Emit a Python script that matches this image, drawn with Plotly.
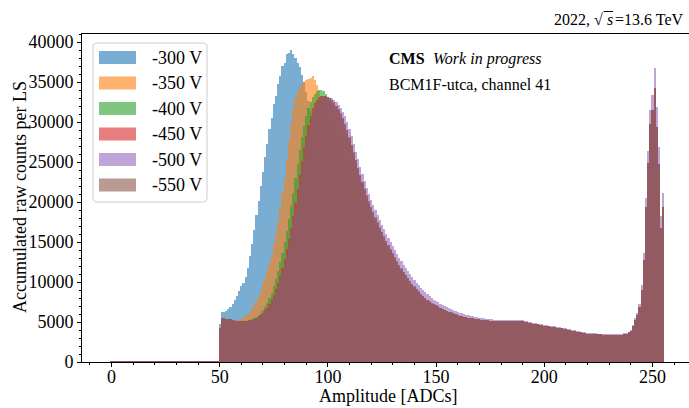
import plotly.graph_objects as go

# ---------------------------------------------------------------------------
# Accumulated raw counts per LS, BCM1F-utca channel 41, one histogram per bias
# voltage. ADC bins 0..255 (bin width 1).
# ---------------------------------------------------------------------------
bins = list(range(256))

voltages = ["-300 V", "-350 V", "-400 V", "-450 V", "-500 V", "-550 V"]
colors = ["#1f77b4", "#ff7f0e", "#2ca02c", "#d62728", "#9467bd", "#8c564b"]

# bins 0-49 (below threshold, practically empty for every voltage)
low_counts = [
    160, 150, 140, 150, 160, 150, 140, 150, 150, 160,
    150, 140, 150, 160, 150, 150, 140, 150, 160, 150,
    150, 140, 150, 160, 150, 150, 140, 150, 150, 160,
    150, 140, 150, 160, 150, 150, 140, 150, 160, 150,
    150, 140, 150, 150, 160, 150, 140, 150, 160, 170,
]

# bins 50-149, per voltage
rise_300 = [
    4750, 6250, 6250, 6400, 6650, 6900, 7200, 7700, 8200, 8900,
    9500, 9900, 10600, 11700, 13250, 14800, 16500, 18400, 20100, 22000,
    23700, 25600, 27250, 29100, 30500, 32250, 33250, 34750, 35800, 36950,
    37400, 38450, 38600, 39000, 38500, 38000, 37400, 36900, 35900, 34950,
    33800, 32600, 31400, 30300, 29300, 28400, 27500, 26700, 25900, 25100,
    24400, 23700, 23000, 22300, 21600, 21000, 20400, 19800, 19200, 18600,
    18000, 17400, 16900, 16400, 15900, 15400, 14900, 14400, 14000, 13600,
    13200, 12800, 12400, 12000, 11700, 11400, 11100, 10800, 10500, 10200,
    9900, 9700, 9500, 9300, 9100, 8900, 8700, 8500, 8350, 8200,
    8050, 7900, 7750, 7600, 7500, 7400, 7300, 7200, 7100, 7000,
]
rise_350 = [
    4300, 5500, 5450, 5400, 5380, 5330, 5280, 5250, 5250, 5280,
    5350, 5500, 5700, 5950, 6250, 6650, 7100, 7600, 8200, 8900,
    9700, 10500, 11400, 12400, 13500, 14700, 16000, 17500, 19300, 21100,
    23000, 25300, 27600, 29800, 31600, 33000, 33900, 34400, 34800, 35000,
    35200, 35400, 35500, 35750, 35200, 34600, 33900, 33200, 32500, 31900,
    31300, 30700, 30100, 29500, 28900, 28300, 27700, 27000, 26300, 25600,
    24900, 24200, 23500, 22800, 22100, 21400, 20700, 20000, 19300, 18700,
    18100, 17500, 16900, 16300, 15800, 15300, 14800, 14300, 13800, 13300,
    12900, 12500, 12100, 11700, 11300, 10900, 10500, 10150, 9800, 9500,
    9200, 8900, 8600, 8300, 8050, 7800, 7600, 7400, 7250, 7100,
]
rise_400 = [
    4280, 5480, 5440, 5400, 5360, 5320, 5260, 5200, 5150, 5130,
    5120, 5130, 5150, 5200, 5270, 5370, 5500, 5680, 5900, 6150,
    6450, 6850, 7350, 7950, 8650, 9450, 10350, 11350, 12450, 13650,
    14950, 16350, 17850, 19450, 21150, 22950, 24750, 26500, 28100, 29500,
    30700, 31700, 32500, 33100, 33550, 33850, 34000, 34000, 33850, 33550,
    33150, 32750, 32400, 32000, 31600, 31100, 30600, 30000, 29300, 28500,
    27600, 26700, 25800, 24900, 24000, 23100, 22200, 21350, 20550, 19800,
    19100, 18450, 17800, 17150, 16550, 15950, 15400, 14850, 14350, 13850,
    13350, 12850, 12350, 11900, 11450, 11050, 10650, 10250, 9900, 9550,
    9250, 8950, 8650, 8350, 8100, 7850, 7650, 7450, 7300, 7150,
]
rise_450 = [
    4300, 5490, 5450, 5410, 5370, 5320, 5250, 5180, 5130, 5110,
    5090, 5090, 5110, 5150, 5210, 5290, 5400, 5540, 5710, 5910,
    6150, 6450, 6800, 7250, 7780, 8400, 9100, 9900, 10800, 11800,
    12900, 14100, 15400, 16800, 18300, 19900, 21600, 23350, 25100, 26750,
    28300, 29650, 30800, 31700, 32350, 32800, 33100, 33250, 33300, 33300,
    33150, 32950, 32700, 32400, 32000, 31550, 31050, 30450, 29750, 28950,
    28050, 27100, 26150, 25200, 24250, 23350, 22450, 21600, 20800, 20050,
    19350, 18700, 18050, 17400, 16800, 16200, 15650, 15100, 14600, 14050,
    13550, 13050, 12550, 12100, 11650, 11250, 10850, 10450, 10100, 9750,
    9400, 9100, 8800, 8500, 8250, 8000, 7750, 7550, 7350, 7200,
]
rise_500 = [
    4280, 5480, 5440, 5400, 5360, 5310, 5230, 5150, 5100, 5080,
    5060, 5060, 5070, 5100, 5150, 5220, 5310, 5420, 5570, 5750,
    5960, 6230, 6550, 6950, 7420, 7980, 8620, 9350, 10200, 11150,
    12200, 13350, 14600, 15950, 17400, 18950, 20600, 22300, 24050, 25750,
    27350, 28800, 30050, 31050, 31800, 32350, 32700, 32950, 33100, 33150,
    33100, 33050, 32950, 32800, 32550, 32100, 31750, 31300, 30700, 29950,
    29100, 28200, 27250, 26300, 25350, 24400, 23500, 22650, 21800, 21000,
    20300, 19650, 19000, 18350, 17750, 17150, 16600, 16050, 15550, 15000,
    14500, 14000, 13500, 13050, 12600, 12150, 11750, 11350, 10950, 10600,
    10250, 9900, 9600, 9300, 9000, 8700, 8450, 8200, 7950, 7750,
]
rise_550 = [
    4290, 5500, 5460, 5420, 5380, 5330, 5250, 5170, 5120, 5100,
    5080, 5080, 5090, 5120, 5170, 5240, 5330, 5450, 5600, 5780,
    6000, 6270, 6600, 7000, 7480, 8050, 8700, 9450, 10300, 11250,
    12300, 13450, 14700, 16050, 17500, 19050, 20700, 22400, 24150, 25850,
    27450, 28900, 30150, 31150, 31900, 32450, 32800, 33050, 33200, 33250,
    33150, 33000, 32750, 32450, 32050, 31600, 31100, 30500, 29800, 29000,
    28100, 27150, 26200, 25250, 24300, 23400, 22500, 21650, 20850, 20100,
    19400, 18750, 18100, 17450, 16850, 16250, 15700, 15150, 14650, 14100,
    13600, 13100, 12600, 12150, 11700, 11300, 10900, 10500, 10150, 9800,
    9450, 9150, 8850, 8550, 8300, 8050, 7800, 7600, 7400, 7250,
]

# bins 150-255: common plateau / overflow peak
tail_counts = [
    7100, 6950, 6800, 6650, 6550, 6400, 6300, 6200, 6100, 6000,
    5900, 5800, 5750, 5650, 5600, 5550, 5500, 5450, 5420, 5400,
    5350, 5300, 5280, 5250, 5200, 5180, 5150, 5150, 5130, 5130,
    5120, 5120, 5120, 5130, 5130, 5120, 5130, 5130, 5140, 5130,
    5100, 5050, 5000, 4920, 4860, 4800, 4740, 4690, 4640, 4590,
    4550, 4500, 4450, 4420, 4380, 4340, 4300, 4250, 4200, 4150,
    4100, 4050, 3980, 3920, 3860, 3800, 3750, 3700, 3650, 3600,
    3560, 3530, 3500, 3480, 3460, 3450, 3440, 3430, 3420, 3400,
    3380, 3370, 3360, 3360, 3370, 3380, 3420, 3480, 3560, 3700,
    3880, 4500, 5250, 5900, 6900, 9000, 12750, 19400, 24900, 29800,
    31500, 34200, 29400, 24800, 16700, 19400,
]
tail_500 = [
    7600, 7450, 7300, 7150, 7000, 6850, 6720, 6600, 6480, 6370,
    6260, 6160, 6080, 6000, 5920, 5850, 5780, 5720, 5660, 5610,
    5560, 5510, 5470, 5430, 5390, 5350, 5320, 5300, 5280, 5270,
    5260, 5250, 5250, 5250, 5250, 5240, 5240, 5240, 5240, 5230,
    5200, 5150, 5100, 5020, 4960, 4900, 4840, 4790, 4740, 4690,
    4650, 4600, 4560, 4520, 4480, 4440, 4400, 4360, 4310, 4260,
    4210, 4160, 4090, 4030, 3970, 3910, 3860, 3810, 3760, 3710,
    3670, 3640, 3610, 3590, 3570, 3560, 3550, 3540, 3530, 3510,
    3490, 3480, 3470, 3470, 3480, 3490, 3530, 3590, 3670, 3810,
    4000, 4650, 5450, 6150, 7250, 9600, 13600, 20500, 26400, 31500,
    33400, 36700, 31900, 26900, 18200, 21100,
]

series = [
    low_counts + rise_300 + tail_counts,
    low_counts + rise_350 + tail_counts,
    low_counts + rise_400 + tail_counts,
    low_counts + rise_450 + tail_counts,
    low_counts + rise_500 + tail_500,
    low_counts + rise_550 + tail_counts,
]

# ---------------------------------------------------------------------------
W, H = 689, 408
PL, PT, PR, PB = 82, 34, 689, 362          # plot area in pixels
PW, PH = PR - PL, PB - PT
FONT = "Liberation Serif, Times New Roman, serif"
ALPHA = 0.6


def fx(x):
    return (x - PL) / PW


def fy(y):
    return (PB - y) / PH


def rgba(hex_color, a):
    h = hex_color.lstrip("#")
    r, g, b = int(h[0:2], 16), int(h[2:4], 16), int(h[4:6], 16)
    return f"rgba({r},{g},{b},{a})"


fig = go.Figure()
for label, col, vals in zip(voltages, colors, series):
    fig.add_trace(go.Bar(
        x=bins, y=vals, width=1, name=label,
        marker=dict(color=rgba(col, ALPHA), line=dict(width=0)),
        showlegend=False,
    ))

axis_common = dict(
    showgrid=False, zeroline=False, showline=True, linecolor="black",
    linewidth=1, ticks="outside", ticklen=4, tickwidth=1, tickcolor="black",
    tickformat="d",
    tickfont=dict(family=FONT, size=18, color="black"),
)

fig.update_layout(
    width=W, height=H,
    margin=dict(l=PL, r=W - PR, t=PT, b=H - PB, pad=0),
    paper_bgcolor="white", plot_bgcolor="white",
    barmode="overlay", bargap=0,
    font=dict(family=FONT, color="black"),
    xaxis=dict(
        range=[-13.63, 266.87], tick0=0, dtick=50, mirror=True,
        ticklabelstandoff=-6,
        minor=dict(tick0=0, dtick=10, ticks="outside", ticklen=2,
                   tickcolor="black"),
        **axis_common,
    ),
    yaxis=dict(
        range=[0, 41000], tick0=0, dtick=5000, mirror=False,
        minor=dict(tick0=0, dtick=1000, ticks="outside", ticklen=2,
                   tickcolor="black"),
        **axis_common,
    ),
)

annotations = [
    dict(x=fx(388), y=fy(396), text="Amplitude [ADCs]", xanchor="center",
         yanchor="middle", font=dict(size=18)),
    dict(x=fx(20), y=fy(197), text="Accumulated raw counts per LS",
         textangle=-90, xanchor="center", yanchor="middle",
         font=dict(size=18)),
    # energy label, assembled piecewise so the radical bar sits over "s"
    dict(x=fx(605), y=fy(19), text="2022, √", xanchor="right",
         yanchor="middle", font=dict(size=16)),
    dict(x=fx(604.5), y=fy(19), text="<i>s</i>", xanchor="left",
         yanchor="middle", font=dict(size=16)),
    dict(x=fx(613), y=fy(19), text="=13.6 TeV", xanchor="left",
         yanchor="middle", font=dict(size=16)),
    dict(x=fx(387), y=fy(59), text="<b>CMS</b>", xanchor="left",
         yanchor="middle", font=dict(size=16)),
    dict(x=fx(431), y=fy(59), text="<i>Work in progress</i>",
         xanchor="left", yanchor="middle", font=dict(size=16)),
    dict(x=fx(387), y=fy(84), text="BCM1F-utca, channel 41",
         xanchor="left", yanchor="middle", font=dict(size=16)),
]

# legend frame with rounded corners
lx0, ly0, lx1, ly1, rad = 93, 43, 207, 202, 4
pts = [
    ("M", lx0 + rad, ly0), ("L", lx1 - rad, ly0),
    ("Q", lx1, ly0, lx1, ly0 + rad), ("L", lx1, ly1 - rad),
    ("Q", lx1, ly1, lx1 - rad, ly1), ("L", lx0 + rad, ly1),
    ("Q", lx0, ly1, lx0, ly1 - rad), ("L", lx0, ly0 + rad),
    ("Q", lx0, ly0, lx0 + rad, ly0),
]
path = ""
for p in pts:
    cmd, coords = p[0], p[1:]
    xy = []
    for i in range(0, len(coords), 2):
        xy.append(f"{fx(coords[i]):.5f},{fy(coords[i + 1]):.5f}")
    path += cmd + " ".join(xy) + " "
path += "Z"

shapes = [dict(type="path", xref="paper", yref="paper", path=path,
               fillcolor="rgba(255,255,255,0.8)",
               line=dict(color="#cccccc", width=1), layer="above")]

# bar of the square-root sign
shapes.append(dict(type="line", xref="paper", yref="paper",
                   x0=fx(603.5), x1=fx(613), y0=fy(11.5), y1=fy(11.5),
                   line=dict(color="black", width=1)))

row_h = 25.5
for i, (label, col) in enumerate(zip(voltages, colors)):
    top = 51 + row_h * i
    shapes.append(dict(type="rect", xref="paper", yref="paper",
                       x0=fx(99), x1=fx(136), y0=fy(top + 13), y1=fy(top),
                       fillcolor=rgba(col, ALPHA), line=dict(width=0),
                       layer="above"))
    annotations.append(dict(x=fx(149.5), y=fy(top + 6.5), text=label,
                            xanchor="left", yanchor="middle",
                            font=dict(size=18)))

for a in annotations:
    a.update(xref="paper", yref="paper", showarrow=False)

fig.update_layout(annotations=annotations, shapes=shapes)
fig.write_html("out.html")
